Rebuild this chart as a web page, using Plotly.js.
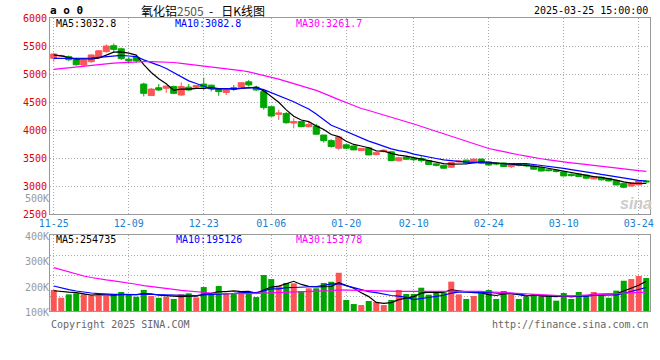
<!DOCTYPE html>
<html><head><meta charset="utf-8">
<script src="https://cdn.plot.ly/plotly-3.0.1.min.js"></script>
<style>html,body{margin:0;padding:0;background:#fff}#chart{width:660px;height:360px}</style>
</head><body><div id="chart"></div>
<script>
const dates = ['11-25','11-26','11-27','11-28','11-29',
'12-02','12-03','12-04','12-05','12-06','12-09','12-10','12-11','12-12','12-13',
'12-16','12-17','12-18','12-19','12-20','12-23','12-24','12-25','12-26','12-27',
'12-30','12-31','01-02','01-03','01-06','01-07','01-08','01-09','01-10',
'01-13','01-14','01-15','01-16','01-17','01-20','01-21','01-22','01-23','01-24','01-27',
'02-05','02-06','02-07','02-10','02-11','02-12','02-13','02-14',
'02-17','02-18','02-19','02-20','02-21','02-24','02-25','02-26','02-27','02-28',
'03-03','03-04','03-05','03-06','03-07','03-10','03-11','03-12','03-13','03-14',
'03-17','03-18','03-19','03-20','03-21','03-24','03-25'];

const open = [5280,5320,5310,5265,5160,5220,5300,5400,5505,5450,
5265,5300,4820,4615,4755,4745,4775,4625,4765,4765,
4820,4800,4725,4670,4755,4755,4860,4765,4685,4415,
4280,4295,4125,4150,4060,4070,3910,3810,3675,3735,
3715,3632,3680,3560,3615,3610,3450,3512,3490,3490,
3450,3395,3370,3335,3430,3462,3410,3480,3430,3410,
3410,3345,3395,3385,3355,3330,3290,3280,3255,3210,
3210,3195,3128,3155,3135,3095,3048,3000,3020,3090];
const high = [5380,5345,5330,5290,5260,5350,5420,5530,5545,5470,
5300,5320,4845,4750,4820,4790,4790,4850,4820,4800,
4935,4810,4735,4745,4805,4850,4895,4790,4720,4420,
4360,4320,4210,4155,4150,4110,3915,3835,3885,3760,
3720,3675,3700,3610,3650,3620,3520,3530,3500,3530,
3460,3410,3380,3430,3455,3470,3485,3490,3440,3420,
3420,3410,3410,3400,3365,3340,3300,3290,3265,3225,
3220,3200,3175,3165,3145,3100,3055,3065,3100,3105];
const low = [5220,5310,5230,5150,5130,5200,5290,5380,5380,5250,
5190,5200,4600,4610,4700,4665,4640,4610,4700,4740,
4715,4690,4610,4625,4700,4750,4775,4700,4360,4240,
4180,4110,4030,4050,4045,3915,3775,3685,3640,3660,
3640,3625,3550,3550,3600,3445,3440,3470,3440,3420,
3380,3350,3310,3320,3420,3400,3400,3400,3360,3370,
3340,3320,3350,3340,3290,3260,3260,3240,3175,3170,
3160,3130,3115,3100,3085,3010,2960,2990,3010,3050];
const close = [5357,5330,5255,5165,5250,5340,5415,5500,5440,5275,
5235,5240,4655,4730,4715,4785,4655,4775,4715,4795,
4765,4735,4685,4725,4728,4845,4805,4715,4400,4250,
4305,4130,4150,4060,4100,3925,3810,3705,3875,3675,
3645,3672,3555,3595,3640,3455,3505,3478,3470,3455,
3385,3370,3318,3420,3445,3410,3480,3410,3375,3395,
3348,3395,3370,3360,3300,3268,3275,3262,3180,3185,
3170,3140,3165,3110,3090,3020,2978,3058,3092,3075];

const ma5 = [5340,5325,5295,5265,
5271,5268,5285,5334,5389,5394,5373,5338,5169,5027,
4915,4825,4708,4732,4729,4745,4741,4757,4739,4741,
4728,4744,4758,4764,4699,4603,4495,4360,4247,4179,
4149,4073,4009,3920,3883,3798,3742,3714,3684,3628,
3621,3583,3550,3535,3510,3473,3459,3432,3400,3390,
3388,3393,3415,3433,3424,3414,3402,3385,3377,3374,
3355,3339,3315,3293,3257,3234,3214,3187,3168,3154,
3135,3105,3073,3051,3048,3045];
const ma10 = [5278,5278,5278,5278,5278,5285,5298,5310,5322,
5333,5321,5312,5252,5208,5155,5099,5023,4951,4878,
4830,4783,4733,4736,4735,4736,4742,4757,4751,4720,
4665,4619,4559,4505,4439,4376,4284,4185,4084,4031,
3974,3908,3862,3802,3756,3710,3663,3632,3610,3569,
3547,3521,3491,3467,3450,3430,3426,3423,3416,3407,
3401,3397,3400,3405,3399,3384,3370,3350,3335,3315,
3294,3277,3251,3231,3206,3185,3160,3130,3110,3100,3089];
const ma30 = [5083,5095,5110,5128,5140,5152,5165,5180,5195,5205,
5215,5220,5222,5222,5220,5215,5205,5190,5175,5155,
5140,5122,5105,5095,5082,5062,5038,5008,4976,
4943,4908,4868,4831,4794,4756,4708,4655,4595,4543,
4490,4437,4384,4348,4310,4274,4230,4191,4148,4107,
4062,4016,3970,3925,3881,3839,3791,3747,3703,3669,
3640,3609,3584,3558,3535,3508,3486,3468,3454,3430,
3414,3398,3381,3368,3351,3333,3319,3301,3287,3274,3262];

const volume = [187000,118000,148000,157000,148000,136000,136000,136000,151000,169000,
142000,127000,187000,133000,118000,127000,107000,148000,157000,121000,
213000,148000,222000,157000,157000,178000,157000,124000,320000,284000,
222000,249000,246000,178000,202000,202000,249000,260000,340000,98000,
62000,53000,89000,80000,53000,98000,187000,151000,151000,207000,
145000,166000,166000,261000,148000,107000,133000,157000,187000,107000,
178000,148000,107000,127000,151000,127000,142000,92000,160000,107000,
169000,142000,169000,151000,118000,181000,269000,284000,311000,293000];
const volMa5 = [180000,172000,167000,163000,
152000,141000,145000,143000,141000,146000,147000,145000,155000,152000,
141000,138000,134000,127000,131000,132000,149000,157000,172000,172000,
179000,172000,174000,155000,187000,213000,221000,240000,264000,236000,
219000,215000,215000,218000,251000,230000,202000,163000,128000,76000,
67000,75000,101000,114000,128000,159000,168000,164000,167000,189000,
177000,170000,163000,161000,146000,138000,152000,155000,145000,133000,
142000,132000,131000,128000,134000,126000,134000,134000,149000,148000,
150000,152000,178000,201000,229000,264000];
const volMa10 = [222000,205000,190000,178000,168000,160000,155000,150000,148000,
149000,144000,145000,149000,147000,144000,143000,140000,141000,142000,
137000,144000,146000,149000,152000,156000,161000,166000,163000,180000,
196000,197000,207000,209000,212000,216000,218000,228000,241000,243000,
225000,209000,189000,173000,164000,149000,138000,132000,121000,102000,
113000,121000,133000,140000,159000,168000,169000,164000,164000,168000,
158000,161000,159000,153000,140000,140000,142000,143000,137000,134000,
134000,133000,132000,139000,141000,138000,143000,156000,175000,191000,209000];
const volMa30 = [385000,365000,345000,325000,311000,298000,285000,276000,268000,260000,
250000,238000,226000,216000,208000,200000,192000,183000,176000,169000,
164000,160000,157000,155000,154000,154000,155000,156000,158000,
160000,162000,166000,169000,170000,172000,174000,178000,182000,188000,
186000,183000,181000,177000,176000,173000,172000,175000,175000,175000,
178000,176000,176000,174000,178000,178000,175000,174000,175000,171000,
165000,164000,160000,156000,154000,152000,150000,146000,141000,135000,
135000,138000,141000,144000,146000,149000,151000,154000,159000,164000,167000];

const dateTicks = ['11-25','12-09','12-23','01-06','01-20','02-10','02-24','03-10','03-24'];
const priceTicks = [2500,3000,3500,4000,4500,5000,5500,6000];
const volTickValsLow = [100000,200000,300000];
const volTickTextLow = ['100K','200K','300K'];
const volTickValsHigh = [400000,500000];
const volTickTextHigh = ['400K','500K'];
const maLabels = ['MA5:3032.8','MA10:3082.8','MA30:3261.7'];
const volMaLabels = ['MA5:254735','MA10:195126','MA30:153778'];
const chartTitle = '氧化铝<span style="color:#555">2505</span>\u00a0\u00a0-\u00a0\u00a0\u00a0日K线图';
const stamp = '2025-03-25 15:00:00';

// ---- styling ----
const RED = '#fa5656', GREEN = '#00a600';
const MA_COLORS = ['#000000', '#0000ff', '#ff00ff'];
const GRID = '#aaaaaa', BORDER = '#999999';
const MONO = 'DejaVu Sans Mono';
const W = 660, H = 360, L = 50, R = 10, T = 18, B = 40;
const PW = W - L - R, PH = H - T - B;
const pxX = v => (v - L) / PW;
const pxY = v => (H - B - v) / PH;

const volColors = close.map((c, i) => c >= open[i] ? RED : GREEN);

const traces = [
  {type: 'candlestick', x: dates, open: open, high: high, low: low, close: close,
   xaxis: 'x', yaxis: 'y', whiskerwidth: 0, hoverinfo: 'skip',
   increasing: {line: {color: RED, width: 1}, fillcolor: RED},
   decreasing: {line: {color: GREEN, width: 1}, fillcolor: GREEN}},
  {type: 'scatter', mode: 'lines', x: dates, y: ma5, xaxis: 'x', yaxis: 'y', line: {color: MA_COLORS[0], width: 1.2}, hoverinfo: 'skip'},
  {type: 'scatter', mode: 'lines', x: dates, y: ma10, xaxis: 'x', yaxis: 'y', line: {color: MA_COLORS[1], width: 1.2}, hoverinfo: 'skip'},
  {type: 'scatter', mode: 'lines', x: dates, y: ma30, xaxis: 'x', yaxis: 'y', line: {color: MA_COLORS[2], width: 1.2}, hoverinfo: 'skip'},
  {type: 'bar', x: dates, y: volume, xaxis: 'x2', yaxis: 'y2', marker: {color: volColors, line: {width: 0}}, hoverinfo: 'skip'},
  {type: 'scatter', mode: 'lines', x: dates, y: volMa5, xaxis: 'x2', yaxis: 'y2', line: {color: MA_COLORS[0], width: 1.2}, hoverinfo: 'skip'},
  {type: 'scatter', mode: 'lines', x: dates, y: volMa10, xaxis: 'x2', yaxis: 'y2', line: {color: MA_COLORS[1], width: 1.2}, hoverinfo: 'skip'},
  {type: 'scatter', mode: 'lines', x: dates, y: volMa30, xaxis: 'x2', yaxis: 'y2', line: {color: MA_COLORS[2], width: 1.2}, hoverinfo: 'skip'},
  // carriers for the volume label scales (draw nothing)
  {type: 'scatter', mode: 'none', x: dates, y: volume, xaxis: 'x3', yaxis: 'y3', hoverinfo: 'skip'},
  {type: 'scatter', mode: 'none', x: dates, y: volume, xaxis: 'x3', yaxis: 'y4', hoverinfo: 'skip'}
];

const gridCommon = {showgrid: true, gridcolor: GRID, gridwidth: 1, griddash: '1px,2px',
  showline: true, mirror: true, linecolor: BORDER, linewidth: 1, zeroline: false, ticks: '', fixedrange: true};
const labelAxis = {side: 'left', ticks: '', showgrid: false, showline: false, zeroline: false,
  fixedrange: true, tickmode: 'array', tickfont: {family: MONO, size: 10, color: '#999'}};

function ann(text, x, y, color, xanchor, opts) {
  return Object.assign({text: text, xref: 'paper', yref: 'paper', x: pxX(x), y: pxY(y),
    xanchor: xanchor, yanchor: 'middle', showarrow: false,
    font: {family: MONO, size: 10, color: color}}, opts || {});
}

const annotations = [
  ann('<b>a o 0</b>', 48, 11, '#000', 'left', {font: {family: MONO, size: 11, color: '#000'}}),
  ann(chartTitle, 139, 11, '#000', 'left', {font: {family: 'Noto Sans CJK SC', size: 12, color: '#000'}}),
  ann(stamp, 650, 11, '#000', 'right'),
  ann(maLabels[0], 54, 24, MA_COLORS[0], 'left'),
  ann(maLabels[1], 173, 24, MA_COLORS[1], 'left'),
  ann(maLabels[2], 294, 24, MA_COLORS[2], 'left'),
  ann(volMaLabels[0], 54, 239, MA_COLORS[0], 'left'),
  ann(volMaLabels[1], 174, 239, MA_COLORS[1], 'left'),
  ann(volMaLabels[2], 294, 239, MA_COLORS[2], 'left'),
  ann('Copyright 2025 SINA.COM', 49, 324, '#666', 'left'),
  ann('http://finance.sina.com.cn', 651, 324, '#666', 'right'),
  ann('<b><i>sina</i></b>', 636, 203, '#cccccc', 'center', {font: {family: 'Liberation Sans', size: 16, color: '#cccccc'}})
];

const layout = {
  width: W, height: H,
  margin: {l: L, r: R, t: T, b: B, pad: 0},
  paper_bgcolor: '#fff', plot_bgcolor: 'rgba(0,0,0,0)',
  showlegend: false, hovermode: false,
  boxgap: 0.1, boxgroupgap: 0.1, bargap: 0.2,
  xaxis: Object.assign({}, gridCommon, {type: 'category', domain: [0, 1], anchor: 'y',
    range: [-0.5, dates.length - 0.5], tickmode: 'array', tickvals: dateTicks, ticktext: dateTicks,
    tickfont: {family: MONO, size: 10, color: '#1a80d0'}, rangeslider: {visible: false}}),
  xaxis2: Object.assign({}, gridCommon, {type: 'category', domain: [0, 1], anchor: 'y2',
    range: [-0.5, dates.length - 0.5], tickmode: 'array', tickvals: dateTicks, showticklabels: false}),
  xaxis3: {type: 'category', domain: [0, 1], anchor: 'y3', visible: false, showgrid: false,
    range: [-0.5, dates.length - 0.5], fixedrange: true},
  yaxis: Object.assign({}, gridCommon, {domain: [pxY(214), 1], anchor: 'x', range: [2500, 6000],
    tickmode: 'array', tickvals: priceTicks, ticktext: priceTicks.map(String),
    tickfont: {family: MONO, size: 10, color: '#e00000'}}),
  yaxis2: Object.assign({}, gridCommon, {domain: [pxY(311), pxY(234.5)], anchor: 'x2', range: [0, 680000],
    tickmode: 'linear', tick0: 130700, dtick: 183500, showticklabels: false}),
  yaxis3: Object.assign({}, labelAxis, {domain: [0, pxY(250)], anchor: 'x3', range: [71800, 346300],
    tickvals: volTickValsLow, ticktext: volTickTextLow}),
  yaxis4: Object.assign({}, labelAxis, {domain: [pxY(245), pxY(190)], anchor: 'x3', range: [375700, 524300],
    tickvals: volTickValsHigh, ticktext: volTickTextHigh}),
  annotations: annotations
};

Plotly.newPlot('chart', traces, layout, {staticPlot: true, displayModeBar: false});
</script>
</body></html>
